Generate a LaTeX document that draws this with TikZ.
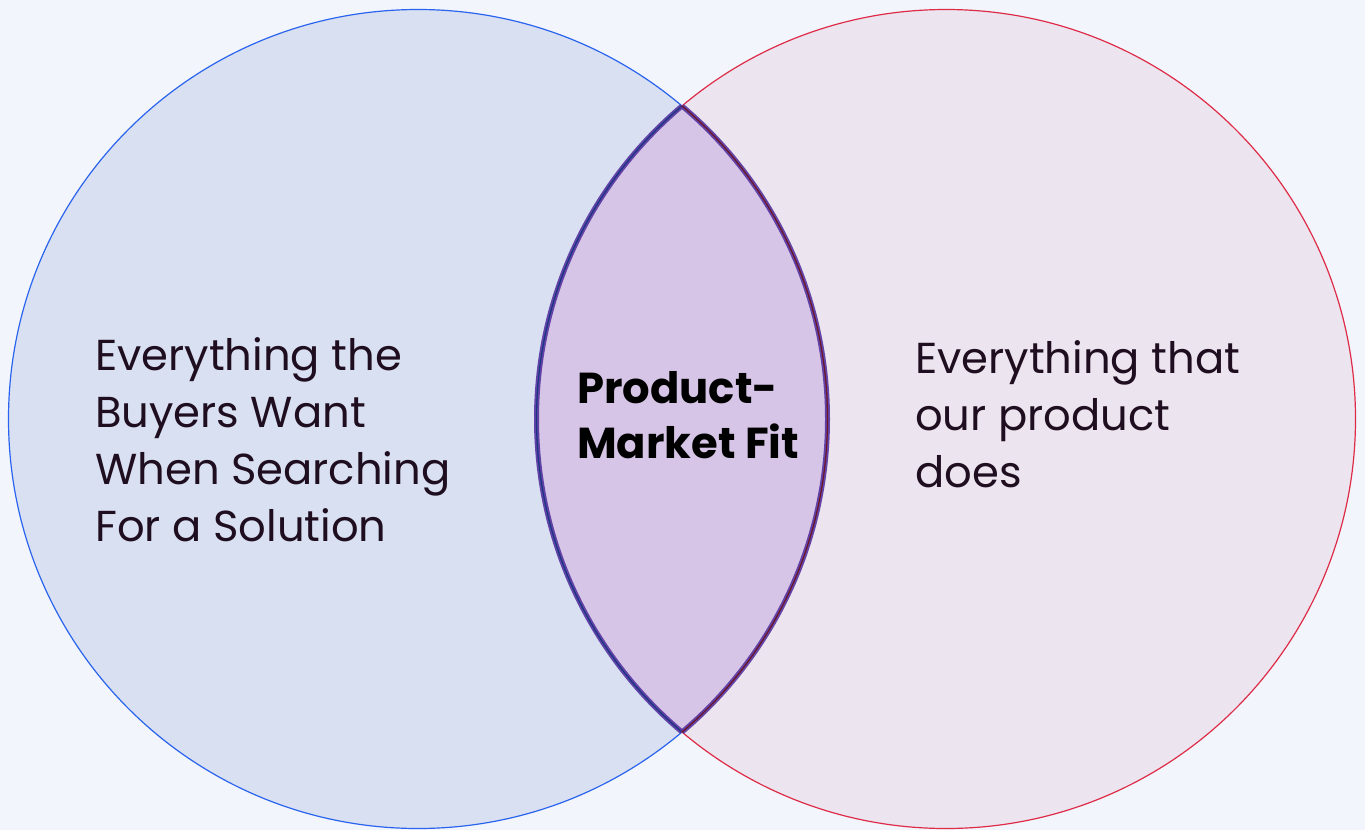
\documentclass[tikz,border=0pt]{standalone}
\usepackage{fontspec}
\setmainfont{Poppins}

\definecolor{pageBg}{HTML}{F2F5FC}
\definecolor{buyersFill}{HTML}{D8E0F2}
\definecolor{productFill}{HTML}{ECE4EE}
\definecolor{fitFill}{HTML}{D6C5E6}
\definecolor{fitEdge}{HTML}{5634A0}
\definecolor{buyersLine}{HTML}{2A64EE}
\definecolor{productLine}{HTML}{DE2C48}
\definecolor{inkDark}{HTML}{1F0E1F}

\begin{document}
\begin{tikzpicture}[
    x=1pt, y=-1pt,
    vennRadius/.style={radius=409.5pt},
    vennOutline/.style={line width=1.2pt},
    vennLens/.style={draw=fitEdge, line width=5pt, opacity=0.9},
    vennText/.style={anchor=base west, align=left, inner sep=0pt, text=inkDark,
        font=\fontsize{43.3}{57}\selectfont},
    vennFit/.style={vennText, font=\fontsize{43.3}{55}\selectfont\bfseries, text=black}
]
\useasboundingbox[fill=pageBg] (0,0) rectangle (1365,830);

\coordinate (buyers) at (418,419);
\coordinate (product) at (946,419);

% the two sets
\fill[buyersFill] (buyers) circle[vennRadius];
\fill[productFill] (product) circle[vennRadius];

% overlap
\begin{scope}
    \clip (buyers) circle[vennRadius];
    \fill[fitFill] (product) circle[vennRadius];
\end{scope}

\draw[vennOutline, buyersLine] (buyers) circle[vennRadius];
\draw[vennOutline, productLine] (product) circle[vennRadius];

% lens edge: left arc dark blue, right arc dark red
\begin{scope}
    \clip (buyers) circle[vennRadius];
    \draw[vennLens] (product) circle[vennRadius];
    \draw[vennOutline, buyersLine!55!black] (product) circle[vennRadius];
\end{scope}
\begin{scope}
    \clip (product) circle[vennRadius];
    \draw[vennLens] (buyers) circle[vennRadius];
    \draw[vennOutline, productLine!50!black] (buyers) circle[vennRadius];
\end{scope}

% base anchor sits on the last line
\node[vennText] (buyersText) at (95,541)
    {Everything the\\Buyers Want\\When Searching\\For a Solution};
\node[vennText] (productText) at (915,487)
    {Everything that\\our product\\does};
\node[vennFit] (fitText) at (577,458) {Product-\\Market Fit};
\end{tikzpicture}
\end{document}
